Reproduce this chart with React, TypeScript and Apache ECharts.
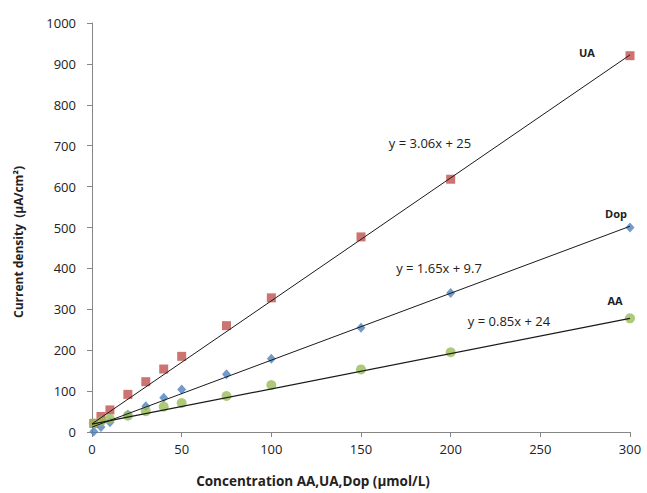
import React, { useEffect, useRef } from "react";
import * as echarts from "echarts";

const concentrations = [1, 5, 10, 20, 30, 40, 50, 75, 100, 150, 200, 300];
const uaValues = [21, 38, 54, 92, 123, 154, 185, 260, 328, 477, 618, 920];
const dopValues = [1, 12, 24, 43, 63, 84, 104, 141, 179, 255, 340, 500];
const aaValues = [21, 26, 32, 40, 51, 62, 71, 88, 115, 153, 195, 278];

const uaTrend = [[0, 20], [300, 922]];
const dopTrend = [[0, 12], [300, 503]];
const aaTrend = [[0, 19], [300, 278]];

const xTicks = { min: 0, max: 300, interval: 50 };
const yTicks = { min: 0, max: 1000, interval: 100 };

const FONT = "'Open Sans', 'Noto Sans', sans-serif";

export default function App() {
  const ref = useRef<HTMLDivElement>(null);
  useEffect(() => {
    if (!ref.current) return;
    const chart = echarts.init(ref.current, undefined, { renderer: "svg" });
    const pts = (vals: number[]) => concentrations.map((c, i) => [c, vals[i]]);
    const axisColor = "#868686";
    chart.setOption({
      animation: false,
      backgroundColor: "#ffffff",
      grid: { left: 92, right: 17, top: 23, bottom: 61 },
      xAxis: {
        type: "value",
        min: xTicks.min,
        max: xTicks.max,
        interval: xTicks.interval,
        splitLine: { show: false },
        axisLine: { lineStyle: { color: axisColor } },
        axisTick: { show: true, length: 5, lineStyle: { color: axisColor } },
        axisLabel: { color: "#222", fontSize: 13, fontFamily: FONT, margin: 10, formatter: (v: number) => String(v) },
      },
      yAxis: {
        type: "value",
        min: yTicks.min,
        max: yTicks.max,
        interval: yTicks.interval,
        splitLine: { show: false },
        axisLine: { show: true, lineStyle: { color: axisColor } },
        axisTick: { show: true, length: 5, lineStyle: { color: axisColor } },
        axisLabel: { color: "#222", fontSize: 13, fontFamily: FONT, margin: 16, formatter: (v: number) => String(v) },
      },
      series: [
        {
          name: "UA",
          type: "scatter",
          symbol: "rect",
          symbolSize: 9,
          itemStyle: { color: "#C0504D" },
          data: pts(uaValues),
          z: 2,
        },
        {
          name: "Dop",
          type: "scatter",
          symbol: "diamond",
          symbolSize: [9, 10],
          itemStyle: { color: "#4F81BD" },
          data: pts(dopValues),
          z: 2,
        },
        {
          name: "AA",
          type: "scatter",
          symbol: "circle",
          symbolSize: 10,
          itemStyle: { color: "#9BBB59" },
          data: pts(aaValues),
          z: 2,
        },
        {
          type: "line",
          data: uaTrend,
          symbol: "none",
          lineStyle: { color: "#1a1a1a", width: 1 },
          z: 3,
        },
        {
          type: "line",
          data: dopTrend,
          symbol: "none",
          lineStyle: { color: "#1a1a1a", width: 1 },
          z: 3,
        },
        {
          type: "line",
          data: aaTrend,
          symbol: "none",
          lineStyle: { color: "#1a1a1a", width: 1.3 },
          z: 3,
        },
      ],
      graphic: [
        {
          type: "text",
          x: 18,
          y: 242,
          rotation: Math.PI / 2,
          style: {
            text: "Current density  (µA/cm²)",
            font: `bold 12px ${FONT}`,
            fill: "#222",
            align: "center",
            verticalAlign: "middle",
          },
        },
        {
          type: "text",
          x: 313,
          y: 481,
          style: {
            text: "Concentration AA,UA,Dop (µmol/L)",
            font: `bold 13.5px ${FONT}`,
            fill: "#222",
            align: "center",
            verticalAlign: "middle",
          },
        },
        {
          type: "text",
          x: 430,
          y: 143,
          style: { text: "y = 3.06x + 25", font: `13px ${FONT}`, fill: "#222", align: "center", verticalAlign: "middle" },
        },
        {
          type: "text",
          x: 439,
          y: 268,
          style: { text: "y = 1.65x + 9.7", font: `13px ${FONT}`, fill: "#222", align: "center", verticalAlign: "middle" },
        },
        {
          type: "text",
          x: 509,
          y: 321,
          style: { text: "y = 0.85x + 24", font: `13px ${FONT}`, fill: "#222", align: "center", verticalAlign: "middle" },
        },
        {
          type: "text",
          x: 587,
          y: 52,
          style: { text: "UA", font: `bold 11px ${FONT}`, fill: "#222", align: "center", verticalAlign: "middle" },
        },
        {
          type: "text",
          x: 616,
          y: 213,
          style: { text: "Dop", font: `bold 11px ${FONT}`, fill: "#222", align: "center", verticalAlign: "middle" },
        },
        {
          type: "text",
          x: 615,
          y: 300,
          style: { text: "AA", font: `bold 11px ${FONT}`, fill: "#222", align: "center", verticalAlign: "middle" },
        },
      ],
    });
    return () => chart.dispose();
  }, []);
  return <div ref={ref} style={{ width: 647, height: 493, position: "absolute", left: 0, top: 0 }} />;
}
